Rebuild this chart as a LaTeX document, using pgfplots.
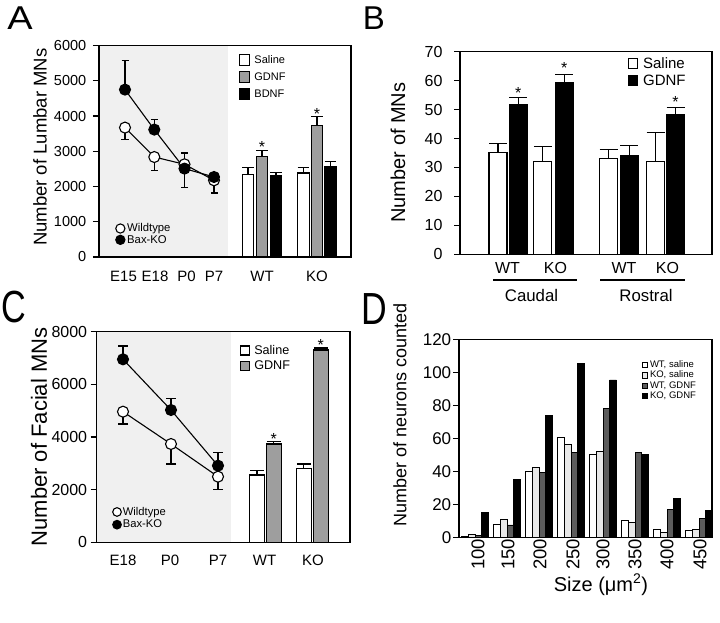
\documentclass[border=0pt]{standalone}
\usepackage{pgfplots}
\pgfplotsset{compat=1.18}
\usepackage{fontspec}
\setmainfont{Liberation Sans}
\usepackage{graphicx}
\newcommand{\fs}[1]{\fontsize{#1}{#1}\selectfont}

\definecolor{shade}{gray}{0.94}
\definecolor{gdnfA}{gray}{0.62}
\definecolor{kosal}{gray}{0.91}
\definecolor{wtgdnf}{gray}{0.36}

\pgfplotsset{
  panel/.style={
    scale only axis, anchor=south west, clip=false, axis on top,
    ymin=0, enlargelimits=false, scaled ticks=false,
    tick align=outside, ytick pos=left, xtick pos=bottom,
    major tick length=6pt,
    axis line style={line width=1.2pt},
    every tick/.style={black, line width=1.2pt},
    xtick style={draw=none},
    /pgf/number format/assume math mode=true,
    /pgf/number format/1000 sep={},
    yticklabel style={anchor=east, inner sep=0pt},
    legend cell align=left,
  },
  bars/.style={ybar, bar width=#1, bar shift=0pt, draw=black, line width=1.1pt, forget plot},
  errup/.style={forget plot, draw=none, no markers,
    error bars/y dir=plus, error bars/y explicit,
    error bars/error bar style={draw=black, line width=1.1pt},
    error bars/error mark options={draw=black, line width=1.1pt, rotate=90, mark size=#1}},
  errdn/.style={forget plot, draw=none, no markers,
    error bars/y dir=minus, error bars/y explicit,
    error bars/error bar style={draw=black, line width=1.1pt},
    error bars/error mark options={draw=black, line width=1.1pt, rotate=90, mark size=#1}},
}

\begin{document}
\begin{tikzpicture}
\useasboundingbox (0pt,0pt) rectangle (720pt,622pt);

% ---------------- Panel A ----------------
\begin{axis}[panel, at={(99pt,365pt)}, width=252pt, height=211.4pt,
  xmin=99, xmax=351, ymax=6000, ytick={0,1000,...,6000},
  xtick={123.5,155,186.5,214,262,317}, xticklabels={E15,E18,P0,P7,WT,KO},
  yticklabel style={font=\fs{14.5}, xshift=-6.6pt},
  xticklabel style={font=\fs{15}, anchor=base, inner sep=0pt, yshift=-19pt},
  ylabel={Number of Lumbar MNs},
  every axis y label/.style={at={(axis description cs:-0.234,0.519)}, rotate=90, anchor=center, font=\fs{18.5}},
  legend style={at={(axis description cs:0.556,0.962)}, anchor=north west, draw=none, fill=none,
    inner sep=0pt, font=\fs{11}, row sep=5pt, column sep=4pt, nodes={inner sep=0pt}},
  legend image code/.code={\draw[#1] (0pt,-5.5pt) rectangle (10pt,5.5pt);},
]
\addplot[fill=shade, draw=none, forget plot] coordinates {(99,0) (228,0) (228,6000) (99,6000)} -- cycle;
% bars
\addplot[bars=11.5, fill=white] coordinates {(248,2340) (303.5,2385)};
\addplot[bars=11.5, fill=gdnfA] coordinates {(262,2860) (317,3720)};
\addplot[bars=11.5, fill=black] coordinates {(276,2320) (330.5,2575)};
\addplot[errup=5.8pt] coordinates {(248,2340) +- (0,190) (303.5,2385) +- (0,145)
  (262,2860) +- (0,150) (317,3720) +- (0,255) (276,2320) +- (0,90) (330.5,2575) +- (0,140)};
% line error bars
\addplot[errdn=3.5pt] coordinates {(125,3673) +- (0,333) (154.3,2838) +- (0,377) (184.5,2509) +- (0,539) (214,2177) +- (0,360)};
\addplot[errup=3.5pt] coordinates {(125,4751) +- (0,832) (154.3,3616) +- (0,284) (184.5,2631) +- (0,321)};
% lines
\addplot[black, line width=1.1pt, mark=*, mark size=5.5pt, mark options={fill=white, line width=1.1pt}, forget plot]
  coordinates {(125,3673) (154.3,2838) (184.5,2631) (214,2177)};
\addplot[black, line width=1.1pt, mark=*, mark size=5.5pt, mark options={fill=black, line width=1.1pt}, forget plot]
  coordinates {(125,4751) (154.3,3616) (184.5,2509) (214,2271)};
\node[font=\fs{16}, inner sep=0pt] at (axis cs:262,3130) {*};
\node[font=\fs{16}, inner sep=0pt] at (axis cs:317,4060) {*};
\addlegendimage{fill=white, draw=black, line width=1.1pt}
\addlegendentry{Saline}
\addlegendimage{fill=gdnfA, draw=black, line width=1.1pt}
\addlegendentry{GDNF}
\addlegendimage{fill=black, draw=black, line width=1.1pt}
\addlegendentry{BDNF}
\end{axis}
\begin{axis}[scale only axis, anchor=south west, at={(99pt,365pt)}, width=252pt, height=211.4pt,
  hide axis, xmin=0, xmax=1, ymin=0, ymax=1,
  legend cell align=left,
  legend style={at={(axis description cs:0.0635,0.16)}, anchor=north west, draw=none, fill=none,
    inner sep=0pt, font=\fs{11.3}, row sep=1pt, column sep=1.7pt, nodes={inner sep=0pt}},
  legend image code/.code={\draw[#1] (5pt,0pt) circle (4.6pt);},
]
\addlegendimage{fill=white, draw=black, line width=1.1pt}
\addlegendentry{Wildtype}
\addlegendimage{fill=black, draw=black, line width=1.1pt}
\addlegendentry{Bax-KO}
\end{axis}

% ---------------- Panel B ----------------
\begin{axis}[panel, at={(460pt,367.7pt)}, width=252pt, height=202.6pt,
  xmin=460, xmax=712, ymax=70, ytick={0,10,...,70},
  xtick={507.5,555.5,624,667.5}, xticklabels={WT,KO,WT,KO},
  yticklabel style={font=\fs{16}, xshift=-11.3pt},
  xticklabel style={font=\fs{16}, anchor=base, inner sep=0pt, yshift=-13.5pt},
  ylabel={Number of MNs},
  every axis y label/.style={at={(axis description cs:-0.246,0.502)}, rotate=90, anchor=center, font=\fs{20}},
  legend style={at={(axis description cs:0.667,0.974)}, anchor=north west, draw=none, fill=none,
    inner sep=0pt, font=\fs{15}, row sep=5pt, column sep=4.7pt, nodes={inner sep=0pt}},
  legend image code/.code={\draw[#1] (0pt,-5pt) rectangle (9pt,5pt);},
]
\addplot[bars=18, fill=white] coordinates {(498,35.1) (542.8,32.2) (608.5,33.2) (655.5,32.0)};
\addplot[bars=18, fill=black] coordinates {(518.2,51.8) (564.2,59.4) (629.2,34.0) (675.5,48.4)};
\addplot[errup=9pt] coordinates {(498,35.1) +- (0,3.2) (542.8,32.2) +- (0,5.0) (608.5,33.2) +- (0,3.1) (655.5,32.0) +- (0,10.1)
  (518.2,51.8) +- (0,2.4) (564.2,59.4) +- (0,2.7) (629.2,34.0) +- (0,3.5) (675.5,48.4) +- (0,2.4)};
\node[font=\fs{16}, inner sep=0pt] at (axis cs:518.2,55.9) {*};
\node[font=\fs{16}, inner sep=0pt] at (axis cs:564.2,64.2) {*};
\node[font=\fs{16}, inner sep=0pt] at (axis cs:675.5,52.5) {*};
\draw[line width=1.2pt] (axis cs:493,-8.9) -- (axis cs:577,-8.9);
\draw[line width=1.2pt] (axis cs:600,-8.9) -- (axis cs:685,-8.9);
\node[font=\fs{16.8}, anchor=base, inner sep=0pt] at (axis cs:531.5,-16.4) {Caudal};
\node[font=\fs{16.8}, anchor=base, inner sep=0pt] at (axis cs:646,-16.4) {Rostral};
\addlegendimage{fill=white, draw=black, line width=1.1pt}
\addlegendentry{Saline}
\addlegendimage{fill=black, draw=black, line width=1.1pt}
\addlegendentry{GDNF}
\end{axis}

% ---------------- Panel C ----------------
\begin{axis}[panel, at={(96.5pt,79.7pt)}, width=253.5pt, height=210.6pt,
  xmin=96.5, xmax=350, ymax=8000, ytick={0,2000,...,8000},
  xtick={123,170,218,264.5,313}, xticklabels={E18,P0,P7,WT,KO},
  yticklabel style={font=\fs{16}, xshift=-3.2pt},
  xticklabel style={font=\fs{15}, anchor=base, inner sep=0pt, yshift=-17.2pt},
  ylabel={Number of Facial MNs},
  every axis y label/.style={at={(axis description cs:-0.227,0.5)}, rotate=90, anchor=center, font=\fs{22}},
  legend style={at={(axis description cs:0.566,0.937)}, anchor=north west, draw=none, fill=none,
    inner sep=0pt, font=\fs{12.6}, row sep=5pt, column sep=4pt, nodes={inner sep=0pt}},
  legend image code/.code={\draw[#1] (0pt,-4.5pt) rectangle (9pt,4.5pt);},
]
\addplot[fill=shade, draw=none, forget plot] coordinates {(96.5,0) (231,0) (231,8000) (96.5,8000)} -- cycle;
\addplot[bars=14.5, fill=white] coordinates {(257,2557) (303.8,2810)};
\addplot[bars=14.5, fill=gdnfA] coordinates {(273.8,3734) (320.8,7304)};
\addplot[errup=7pt] coordinates {(257,2557) +- (0,165) (303.8,2810) +- (0,165) (273.8,3734) +- (0,89) (320.8,7304) +- (0,76)};
\addplot[errdn=5pt] coordinates {(123,4962) +- (0,468) (171,3734) +- (0,760) (218,2493) +- (0,480)};
\addplot[errup=5pt] coordinates {(123,6951) +- (0,506) (171,5025) +- (0,444) (218,2911) +- (0,507)};
\addplot[black, line width=1.1pt, mark=*, mark size=5.5pt, mark options={fill=white, line width=1.1pt}, forget plot]
  coordinates {(123,4962) (171,3734) (218,2493)};
\addplot[black, line width=1.1pt, mark=*, mark size=5.5pt, mark options={fill=black, line width=1.1pt}, forget plot]
  coordinates {(123,6951) (171,5025) (218,2911)};
\node[font=\fs{16}, inner sep=0pt] at (axis cs:273.8,3943) {*};
\node[font=\fs{16}, inner sep=0pt] at (axis cs:320.8,7487) {*};
\addlegendimage{fill=white, draw=black, line width=1.1pt}
\addlegendentry{Saline}
\addlegendimage{fill=gdnfA, draw=black, line width=1.1pt}
\addlegendentry{GDNF}
\end{axis}
\begin{axis}[scale only axis, anchor=south west, at={(96.5pt,79.7pt)}, width=253.5pt, height=210.6pt,
  hide axis, xmin=0, xmax=1, ymin=0, ymax=1,
  legend cell align=left,
  legend style={at={(axis description cs:0.061,0.168)}, anchor=north west, draw=none, fill=none,
    inner sep=0pt, font=\fs{11.2}, row sep=3pt, column sep=1pt, nodes={inner sep=0pt}},
  legend image code/.code={\draw[#1] (4.5pt,0pt) circle (4.3pt);},
]
\addlegendimage{fill=white, draw=black, line width=1.1pt}
\addlegendentry{Wildtype}
\addlegendimage{fill=black, draw=black, line width=1.1pt}
\addlegendentry{Bax-KO}
\end{axis}

% ---------------- Panel D ----------------
\begin{axis}[panel, at={(459pt,84.3pt)}, width=253pt, height=198.4pt,
  xmin=459, xmax=712, ymax=120, ytick={0,20,...,120},
  xtick={478,508,540,573,603,635,667,700}, xticklabels={100,150,200,250,300,350,400,450},
  yticklabel style={font=\fs{17}, xshift=-1.6pt},
  xticklabel style={font=\fs{18.5}, inner sep=0pt, yshift=5pt, rotate=90, anchor=east},
  ylabel={Number of neurons counted},
  every axis y label/.style={at={(axis description cs:-0.233,0.618)}, rotate=90, anchor=center, font=\fs{18}},
  xlabel={Size (μm\textsuperscript{2})},
  every axis x label/.style={at={(axis description cs:0.561,-0.238)}, anchor=center, font=\fs{20}},
  legend style={at={(axis description cs:0.721,0.893)}, anchor=north west, draw=none, fill=none,
    inner sep=0pt, font=\fs{9.5}, row sep=2pt, column sep=2.6pt, nodes={inner sep=0pt}},
  legend image code/.code={\draw[#1] (0pt,-2.6pt) rectangle (5pt,2.6pt);},
]
\addplot[ybar, bar width=6.67pt, bar shift=-10pt, draw=black, line width=0.9pt, fill=white, forget plot]
  coordinates {(475,1) (507,8.3) (539,40.3) (571,60.5) (603,50.4) (635,10.3) (667,5.1) (699,4.2)};
\addplot[ybar, bar width=6.67pt, bar shift=-3.33pt, draw=black, line width=0.9pt, fill=kosal, forget plot]
  coordinates {(475,2) (507,11.1) (539,42.3) (571,56.5) (603,52.4) (635,9.3) (667,3.0) (699,5.1)};
\addplot[ybar, bar width=6.67pt, bar shift=3.33pt, draw=black, line width=0.9pt, fill=wtgdnf, forget plot]
  coordinates {(475,1.5) (507,7.7) (539,39.3) (571,51.4) (603,77.9) (635,51.7) (667,16.8) (699,11.7)};
\addplot[ybar, bar width=6.67pt, bar shift=10pt, draw=black, line width=0.9pt, fill=black, forget plot]
  coordinates {(475,15.4) (507,35.5) (539,74.2) (571,105.5) (603,95.4) (635,50.4) (667,23.8) (699,16.3)};
\addlegendimage{fill=white, draw=black, line width=0.8pt}
\addlegendentry{WT, saline}
\addlegendimage{fill=kosal, draw=black, line width=0.8pt}
\addlegendentry{KO, saline}
\addlegendimage{fill=wtgdnf, draw=black, line width=0.8pt}
\addlegendentry{WT, GDNF}
\addlegendimage{fill=black, draw=black, line width=0.8pt}
\addlegendentry{KO, GDNF}
\end{axis}

% panel letters
\node[font=\fs{33}, inner sep=0pt] at (20pt,603.7pt) {\scalebox{1.15}[1]{A}};
\node[font=\fs{33}, inner sep=0pt] at (374pt,603.7pt) {B};
\node[font=\fs{45}, inner sep=0pt] at (14pt,315pt) {\scalebox{0.76}[1]{C}};
\node[font=\fs{45}, inner sep=0pt] at (374pt,313pt) {\scalebox{0.79}[1]{D}};
\end{tikzpicture}
\end{document}
